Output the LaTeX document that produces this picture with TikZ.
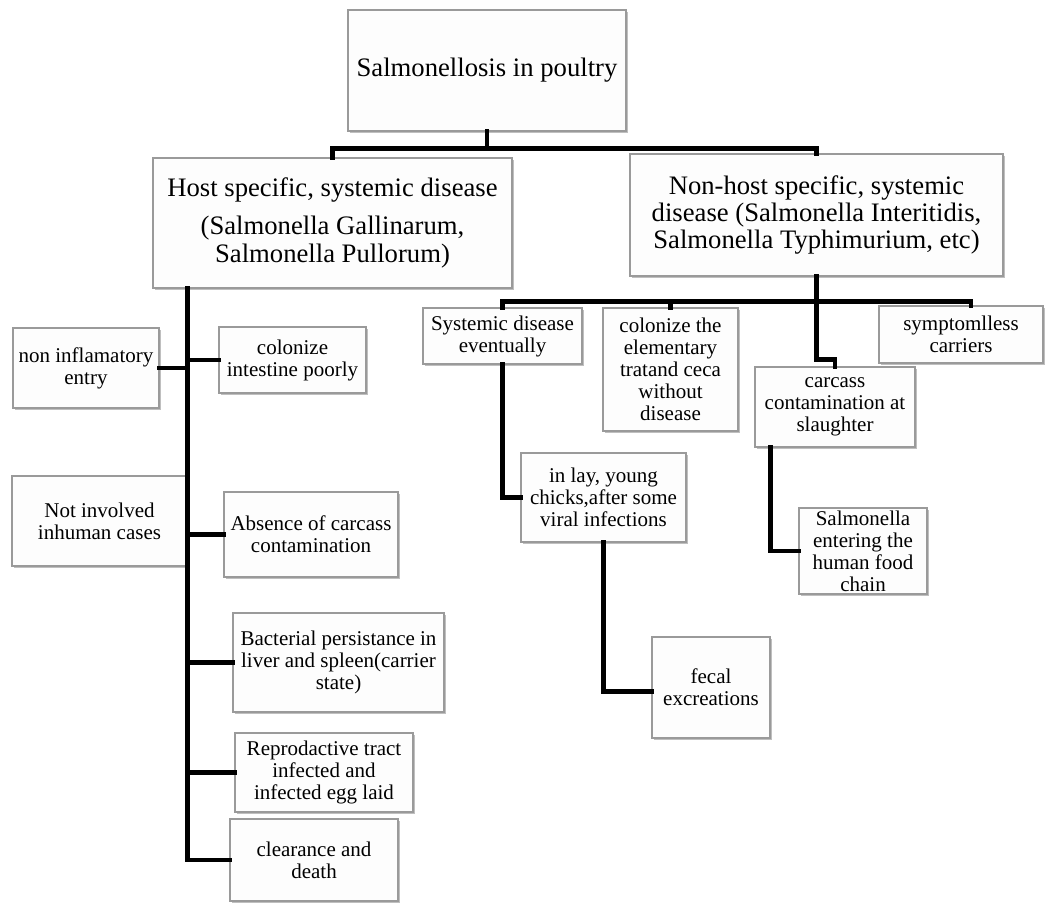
\documentclass[tikz,border=0pt]{standalone}
\usepackage{fontspec}
\setmainfont{Liberation Serif}
\usetikzlibrary{shadows,calc}
\definecolor{boxborder}{HTML}{9A9A9A}
\definecolor{boxfill}{HTML}{FDFDFD}
\tikzset{
  box/.style={draw=boxborder, line width=0.8pt, fill=boxfill, inner sep=0pt,
    align=center, font=\fontsize{15.75}{16.5}\selectfont,
    drop shadow={shadow xshift=1.3pt, shadow yshift=-1.8pt, fill=black!45, opacity=0.55}},
  bigbox/.style={box, font=\fontsize{20}{20.6}\selectfont},
  conn/.style={line width=3.6pt, black, line cap=rect, line join=miter}
}
\begin{document}
\begin{tikzpicture}[x=0.75pt,y=-0.75pt]
\useasboundingbox[fill=white] (0,0) rectangle (1050,903);

% top levels
\node[bigbox, minimum width=208.5pt, minimum height=90.75pt] (top) at (487,70.5) {Salmonellosis in poultry};
\node[bigbox, minimum width=269.25pt, minimum height=97.5pt] (host) at (332.5,223)
  {Host specific, systemic disease\\[8pt](Salmonella Gallinarum,\\Salmonella Pullorum)};
\node[bigbox, minimum width=279.75pt, minimum height=91.5pt] (nonhost) at (816.5,215)
  {Non-host specific, systemic\\disease (Salmonella Interitidis,\\Salmonella Typhimurium, etc)};

% right branch
\node[box, minimum width=119.25pt, minimum height=42pt] (sys) at (502.5,336) {Systemic disease\\eventually};
\node[box, minimum width=101.25pt, minimum height=92.25pt] (colon2) at (670.5,369.5) {colonize the\\elementary\\tratand ceca\\without\\disease};
\node[box, minimum width=123pt, minimum height=42.75pt] (sympt) at (961,334.5) {symptomlless\\carriers};
\node[box, minimum width=120pt, minimum height=60pt] (carcass) at (835,407) {carcass\\contamination at\\slaughter};
\node[box, minimum width=123.75pt, minimum height=66.75pt] (inlay) at (603.5,497.5) {in lay, young\\chicks,after some\\viral infections};
\node[box, minimum width=88.5pt, minimum height=75.75pt] (fecal) at (711,687.5) {fecal\\excreations};
\node[box, minimum width=96pt, minimum height=64.5pt] (salm) at (863,551) {Salmonella\\entering the\\human food\\chain};

% left branch
\node[box, minimum width=109.5pt, minimum height=60pt] (nonin) at (86,368) {non inflamatory\\entry};
\node[box, minimum width=110.25pt, minimum height=49.5pt] (colon1) at (292.5,360) {colonize\\intestine poorly};
\node[box, minimum width=131.25pt, minimum height=67.5pt] (notinv) at (99.5,521) {Not involved\\inhuman cases};
\node[box, minimum width=130.5pt, minimum height=63.75pt] (absence) at (311,534.5) {Absence of carcass\\contamination};
\node[box, minimum width=158.25pt, minimum height=74.25pt] (bact) at (338.5,662.5) {Bacterial persistance in\\liver and spleen(carrier\\state)};
\node[box, minimum width=133.5pt, minimum height=59.25pt] (repro) at (324,772.5) {Reprodactive tract\\infected and\\infected egg laid};
\node[box, minimum width=126pt, minimum height=61.5pt] (clear) at (314,860) {clearance and\\death};

% connectors: top level
\path (top.south) ++(0,17) coordinate (j1);
\draw[conn] (top.south) -- (j1);
\draw[conn] (host.north) |- (j1);
\draw[conn] (nonhost.north) |- (j1);

% connectors: non-host branch
\path (nonhost.south) ++(0,25) coordinate (j2);
\coordinate (symtop) at ($(sympt.north)+(10,0)$);
\draw[conn] (sys.north) |- (j2);
\draw[conn] (colon2.north) |- (j2);
\draw[conn] (symtop) |- (j2);
\draw[conn] (nonhost.south) |- ($(carcass.north)+(0,-7)$) -- (carcass.north);
\draw[conn] (sys.south) |- (inlay.west);
\draw[conn] (inlay.south) |- ($(fecal.west)+(0,4)$);
\draw[conn] ($(carcass.south west)+(16,0)$) |- (salm.west);

% connectors: host branch
\coordinate (vtop) at ($(host.south west)+(35,0)$);
\draw[conn] (vtop) |- (clear.west);
\draw[conn] (nonin.east) -- (nonin.east -| vtop);
\draw[conn] (colon1.west) -- (colon1.west -| vtop);
\draw[conn] (absence.west) -- (absence.west -| vtop);
\draw[conn] (bact.west) -- (bact.west -| vtop);
\draw[conn] (repro.west) -- (repro.west -| vtop);
\end{tikzpicture}
\end{document}
